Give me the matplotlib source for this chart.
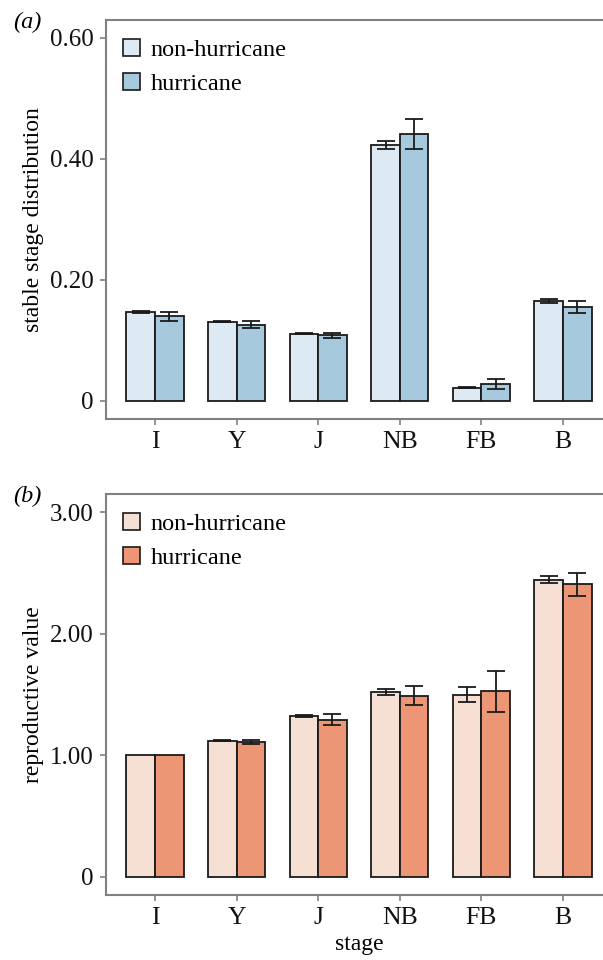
import matplotlib
matplotlib.use("Agg")
import matplotlib.pyplot as plt
from matplotlib.patches import Patch
import numpy as np

plt.rcParams['font.family'] = ['Liberation Serif', 'DejaVu Serif']

# stages along the x axis
stages = ['I', 'Y', 'J', 'NB', 'FB', 'B']
groups = ['non-hurricane', 'hurricane']

# (a) stable stage distribution, mean and error half-width
ssd_non = [0.147, 0.131, 0.111, 0.423, 0.022, 0.165]
ssd_non_err = [0.002, 0.001, 0.001, 0.007, 0.0015, 0.0035]
ssd_hur = [0.140, 0.126, 0.108, 0.441, 0.028, 0.155]
ssd_hur_err = [0.0075, 0.0055, 0.0045, 0.025, 0.008, 0.010]

# (b) reproductive value
rv_non = [1.00, 1.120, 1.323, 1.520, 1.499, 2.444]
rv_non_err = [0.0, 0.004, 0.010, 0.022, 0.064, 0.028]
rv_hur = [1.00, 1.107, 1.293, 1.490, 1.526, 2.408]
rv_hur_err = [0.0, 0.015, 0.045, 0.077, 0.166, 0.095]

blues = ['#dde9f3', '#a7c9dd']
oranges = ['#f6dfd3', '#ec9676']
frame_col = '#808080'

W, H = 603, 960
fig = plt.figure(figsize=(W / 100, H / 100), dpi=100)


def panel(rect, non, non_err, hur, hur_err, cols, ylim, ticks, ticklabels, ylabel, tag, xlabel=None):
    ax = fig.add_axes(rect)
    x = np.arange(len(stages))
    bw = 0.35
    for off, vals, errs, c in [(-bw / 2, non, non_err, cols[0]), (bw / 2, hur, hur_err, cols[1])]:
        ax.bar(x + off, vals, width=bw, color=c, edgecolor='#1a1a1a', linewidth=1.3, zorder=2)
        e = np.array(errs)
        m = e > 0
        ax.errorbar((x + off)[m], np.array(vals)[m], yerr=e[m], fmt='none', ecolor='#1a1a1a',
                    elinewidth=1.3, capsize=6.3, capthick=1.3, zorder=3)
    ax.set_xlim(-0.6, 5.6)
    ax.set_ylim(*ylim)
    ax.set_xticks(x)
    ax.set_xticklabels(stages, fontsize=18.5)
    ax.set_yticks(ticks)
    ax.set_yticklabels(ticklabels, fontsize=18)
    ax.set_ylabel(ylabel, fontsize=17, labelpad=4)
    if xlabel:
        ax.set_xlabel(xlabel, fontsize=17, labelpad=3)
    for s in ax.spines.values():
        s.set_color(frame_col)
        s.set_linewidth(1.5)
    ax.tick_params(colors='#111111', length=4, width=1.2, pad=5)
    ax.tick_params(axis='both', color=frame_col)
    handles = [Patch(facecolor=cols[0], edgecolor='#1a1a1a', linewidth=1.2),
               Patch(facecolor=cols[1], edgecolor='#1a1a1a', linewidth=1.2)]
    ax.legend(handles, groups, loc='upper left', bbox_to_anchor=(0.0, 0.995), frameon=False,
              fontsize=17.5, handlelength=0.7, handleheight=0.7, handletextpad=0.45,
              labelspacing=0.5, borderaxespad=0.3)
    fig.text(13 / W, rect[1] + rect[3] + 0.008, tag, fontsize=17.5, style='italic', va='top', ha='left')
    return ax


panel([106 / W, 1 - 419 / H, 506 / W, 399.5 / H], ssd_non, ssd_non_err, ssd_hur, ssd_hur_err,
      blues, (-0.03, 0.63), [0, 0.2, 0.4, 0.6], ['0', '0.20', '0.40', '0.60'],
      'stable stage distribution', '(a)')
panel([106 / W, 1 - 895 / H, 506 / W, 401 / H], rv_non, rv_non_err, rv_hur, rv_hur_err,
      oranges, (-0.15, 3.15), [0, 1, 2, 3], ['0', '1.00', '2.00', '3.00'],
      'reproductive value', '(b)', xlabel='stage')

fig.savefig('out.png', dpi=100)
